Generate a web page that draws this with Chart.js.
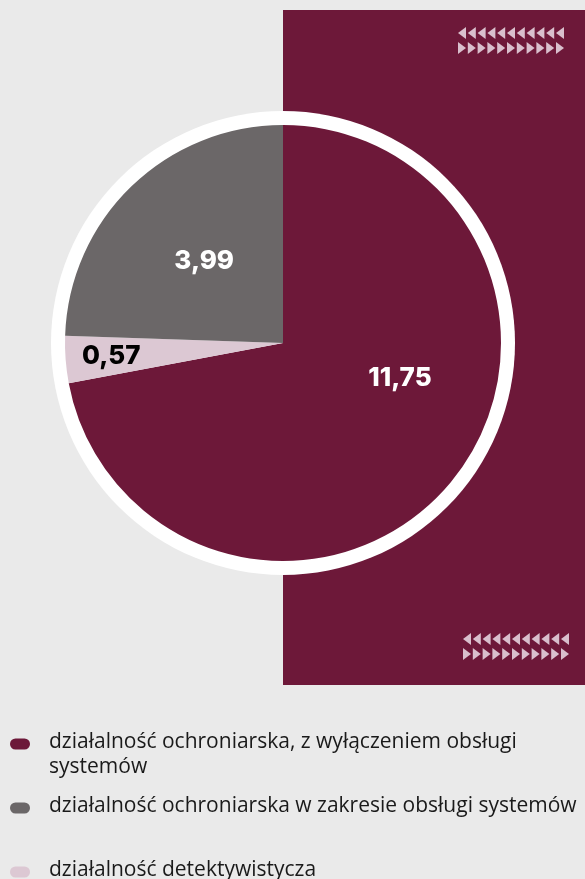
<!DOCTYPE html>
<html>
<head>
<meta charset="utf-8">
<script src="https://cdn.jsdelivr.net/npm/chart.js@4.4.1/dist/chart.umd.min.js"></script>
<style>
  html, body { margin: 0; padding: 0; background: #eaeaea; }
  #wrap { width: 585px; height: 879px; position: relative; }
</style>
</head>
<body>
<div id="wrap"><canvas id="pieChart" width="585" height="879"></canvas></div>
<script>
// slices in drawing order (clockwise from 12 o'clock)
const labels = [
    ['działalność ochroniarska, z wyłączeniem obsługi', 'systemów'],
    ['działalność detektywistycza'],
    ['działalność ochroniarska w zakresie obsługi systemów']
];
const values = [11.75, 0.57, 3.99];
const valueLabels = ['11,75', '0,57', '3,99'];
const colors = ['#6d1839', '#dcc8d3', '#6b6768'];
const labelColors = ['#ffffff', '#000000', '#ffffff'];
const legendOrder = [0, 2, 1];

// where each value label sits: angle override (deg) and fraction of radius
const labelPlacement = [{ angle: 16.7, dist: 0.56 }, { dist: 0.79 }, { dist: 0.52 }];

function drawTriangles(ctx, x0, y0) {
    ctx.fillStyle = '#d9bfcd';
    for (let i = 0; i < 11; i++) {
        const x = x0 + i * 9.8;
        // left-pointing row
        ctx.beginPath();
        ctx.moveTo(x, y0 + 6);
        ctx.lineTo(x + 8, y0);
        ctx.lineTo(x + 8, y0 + 12);
        ctx.closePath();
        ctx.fill();
        // right-pointing row
        ctx.beginPath();
        ctx.moveTo(x, y0 + 15);
        ctx.lineTo(x + 8, y0 + 21);
        ctx.lineTo(x, y0 + 27);
        ctx.closePath();
        ctx.fill();
    }
}

const backdrop = {
    id: 'backdrop',
    beforeDraw(chart) {
        const ctx = chart.ctx;
        ctx.save();
        ctx.fillStyle = '#eaeaea';
        ctx.fillRect(0, 0, chart.width, chart.height);
        ctx.fillStyle = '#6d1839';
        ctx.fillRect(283, 10, chart.width - 283, 675);
        drawTriangles(ctx, 458, 27);
        drawTriangles(ctx, 463, 633);
        ctx.restore();
    },
    beforeDatasetsDraw(chart) {
        const arc = chart.getDatasetMeta(0).data[0];
        const ctx = chart.ctx;
        ctx.save();
        ctx.fillStyle = '#ffffff';
        ctx.beginPath();
        ctx.arc(arc.x, arc.y, arc.outerRadius + 14, 0, Math.PI * 2);
        ctx.fill();
        ctx.restore();
    }
};

const valueLabelPlugin = {
    id: 'valueLabels',
    afterDatasetsDraw(chart) {
        const ctx = chart.ctx;
        ctx.save();
        ctx.font = '800 26px Inter, "DejaVu Sans", sans-serif';
        ctx.textAlign = 'center';
        ctx.textBaseline = 'middle';
        chart.getDatasetMeta(0).data.forEach((arc, i) => {
            const p = labelPlacement[i];
            const a = p.angle !== undefined ? p.angle * Math.PI / 180 : (arc.startAngle + arc.endAngle) / 2;
            const r = arc.outerRadius * p.dist;
            ctx.fillStyle = labelColors[i];
            ctx.fillText(valueLabels[i], arc.x + Math.cos(a) * r, arc.y + Math.sin(a) * r);
        });
        ctx.restore();
    }
};

const legendPlugin = {
    id: 'sideLegend',
    afterDraw(chart) {
        const ctx = chart.ctx;
        ctx.save();
        ctx.font = '21px "Open Sans", sans-serif';
        ctx.textBaseline = 'alphabetic';
        ctx.textAlign = 'left';
        legendOrder.forEach((idx, n) => {
            const y = 744 + n * 64;
            ctx.fillStyle = colors[idx];
            ctx.beginPath();
            ctx.roundRect(10, y - 5.5, 20, 11, 5.5);
            ctx.fill();
            ctx.fillStyle = '#1a1a1a';
            labels[idx].forEach((line, k) => {
                ctx.fillText(line, 49, y + 4 + k * 25);
            });
        });
        ctx.restore();
    }
};

new Chart(document.getElementById('pieChart'), {
    type: 'pie',
    data: {
        labels: labels.map(l => l.join(' ')),
        datasets: [{
            data: values,
            backgroundColor: colors,
            borderWidth: 0,
            radius: 218
        }]
    },
    options: {
        responsive: false,
        animation: false,
        layout: { padding: { left: 0, right: 19, top: 0, bottom: 193 } },
        plugins: {
            legend: { display: false },
            tooltip: { enabled: false }
        }
    },
    plugins: [backdrop, valueLabelPlugin, legendPlugin]
});
</script>
</body>
</html>
